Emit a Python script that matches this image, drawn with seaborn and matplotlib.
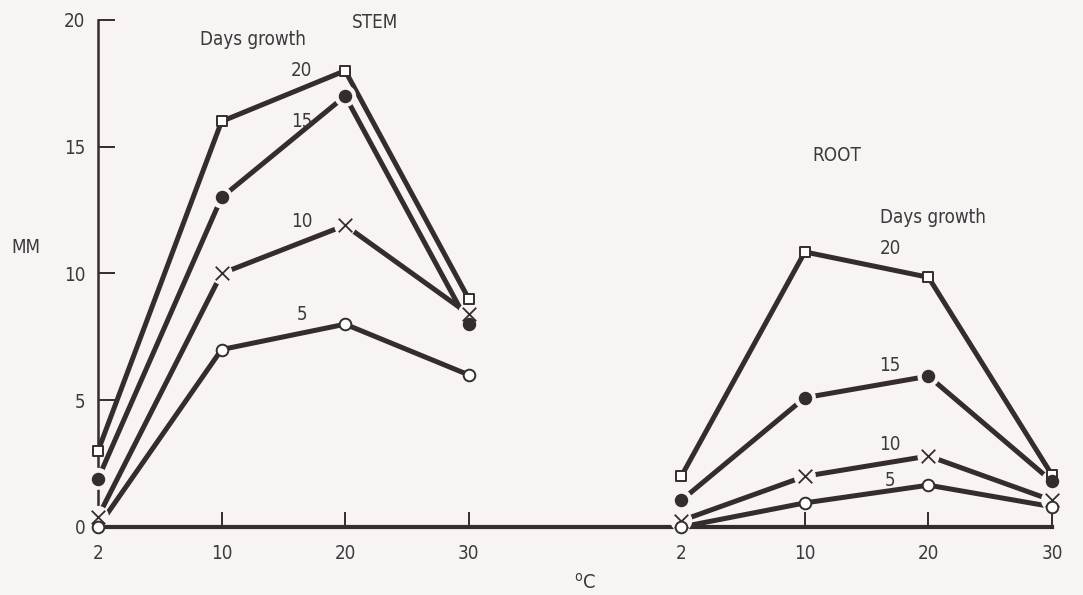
#!/usr/bin/env python
# Stem and root growth (mm) vs temperature, for 5/10/15/20 days growth

import pandas as pd
import numpy as np
import matplotlib
matplotlib.use("Agg")
import matplotlib.pyplot as plt
from matplotlib import font_manager
import seaborn as sns

# ---- data ----
TEMPS = ['2', '10', '20', '30']
STEM_POS = [0, 1, 2, 3]
ROOT_POS = [4.72, 5.72, 6.72, 7.72]
DAYS = [20, 15, 10, 5]

stem_20 = [3.0, 16.0, 18.0, 9.0]
stem_15 = [1.9, 13.0, 17.0, 8.0]
stem_10 = [0.4, 10.0, 11.9, 8.4]
stem_5 = [0.0, 7.0, 8.0, 6.0]

root_20 = [2.0, 10.85, 9.85, 2.05]
root_15 = [1.05, 5.1, 5.95, 1.8]
root_10 = [0.25, 2.0, 2.8, 1.05]
root_5 = [0.0, 0.95, 1.65, 0.8]

stem = {20: stem_20, 15: stem_15, 10: stem_10, 5: stem_5}
root = {20: root_20, 15: root_15, 10: root_10, 5: root_5}

rows = []
for d in DAYS:
    for p, v in zip(STEM_POS, stem[d]):
        rows.append({'organ': 'STEM', 'pos': p, 'mm': v, 'days': d})
    for p, v in zip(ROOT_POS, root[d]):
        rows.append({'organ': 'ROOT', 'pos': p, 'mm': v, 'days': d})
df = pd.DataFrame(rows)

# ---- style ----
BG = '#f8f4f4'
INK = '#352d2d'
TXT = '#3a3a3a'
sns.set_style('white')
names = {f.name for f in font_manager.fontManager.ttflist}
narrow = [n for n in ['Liberation Sans Narrow', 'DejaVu Sans Condensed'] if n in names]
plt.rcParams['font.family'] = narrow + ['DejaVu Sans']
plt.rcParams['font.stretch'] = 'condensed'
plt.rcParams['text.color'] = TXT

fig = plt.figure(figsize=(10.83, 5.95), dpi=100, facecolor=BG)
ax = fig.add_axes([0.0905, 0.1143, 0.8809, 0.8521])
ax.set_facecolor(BG)

# lines
sns.lineplot(data=df, x='pos', y='mm', hue='days', units='organ', estimator=None,
             palette={d: INK for d in DAYS}, linewidth=3.6, legend=False,
             ax=ax, clip_on=False)
for ln in ax.lines:
    ln.set_zorder(2)
    ln.set_solid_capstyle('butt')

# marker styles per series; filled dots and crosses sit in a small gap of the line
styles = {
    20: dict(marker='s', s=60, facecolor='white', linewidth=1.4, halo=False),
    15: dict(marker='o', s=75, facecolor=INK, linewidth=1.0, halo=True),
    10: dict(marker='x', s=95, facecolor=INK, linewidth=1.3, halo=True),
    5: dict(marker='o', s=70, facecolor='white', linewidth=1.4, halo=False),
}
for d in DAYS:
    st = styles[d]
    sub = df[df['days'] == d]
    if st['halo']:
        halo = ax.scatter(sub['pos'], sub['mm'], marker='o', s=250, c=BG,
                          edgecolors='none', clip_on=False)
        halo.set_zorder(3)
    kw = dict(marker=st['marker'], s=st['s'], linewidth=st['linewidth'], ax=ax,
              clip_on=False, legend=False)
    if st['marker'] == 'x':
        sns.scatterplot(data=sub, x='pos', y='mm', color=INK, **kw)
    else:
        sns.scatterplot(data=sub, x='pos', y='mm', facecolor=st['facecolor'],
                        edgecolor=INK, **kw)
    ax.collections[-1].set_zorder(4)

# axes
ax.set_xlim(0, 7.72)
ax.set_ylim(0, 20)
ax.set_xticks(STEM_POS + ROOT_POS)
ax.set_xticklabels(TEMPS + TEMPS)
ax.set_yticks([0, 5, 10, 15, 20])
ax.set_xlabel('')
ax.set_ylabel('')
for s in ['top', 'right']:
    ax.spines[s].set_visible(False)
ax.spines['left'].set_linewidth(1.8)
ax.spines['bottom'].set_linewidth(3.0)
ax.spines['left'].set_color(INK)
ax.spines['bottom'].set_color(INK)
ax.spines['left'].set_zorder(1)
ax.spines['bottom'].set_zorder(1)
ax.tick_params(axis='x', bottom=True, direction='in', length=11, width=1.4, color=INK,
               labelsize=13.5, labelcolor=TXT, pad=12)
ax.tick_params(axis='y', left=True, direction='in', length=12, width=1.4, color=INK,
               labelsize=13.5, labelcolor=TXT, pad=9)

# annotations
fs = 13.5
ax.text(1.255, 19.25, 'Days growth', ha='center', va='center', fontsize=fs)
ax.text(2.24, 19.9, 'STEM', ha='center', va='center', fontsize=fs)
ax.text(5.98, 14.67, 'ROOT', ha='center', va='center', fontsize=fs)
ax.text(6.76, 12.2, 'Days growth', ha='center', va='center', fontsize=fs)
stem_lab = {20: 17.99, 15: 16.0, 10: 12.07, 5: 8.4}
root_lab = {20: 11.0, 15: 6.39, 10: 3.27, 5: 1.85}
for d in DAYS:
    ax.text(1.65, stem_lab[d], str(d), ha='center', va='center', fontsize=fs)
    ax.text(6.41, root_lab[d], str(d), ha='center', va='center', fontsize=fs)

fig.text(26 / 1083, 1 - 247 / 595, 'MM', ha='center', va='center', fontsize=fs)
fig.text(585 / 1083, 1 - 583 / 595, r'$^{\mathregular{o}}$C', ha='center', va='center',
         fontsize=fs + 1)

fig.savefig('out.png', dpi=100, facecolor=BG)
